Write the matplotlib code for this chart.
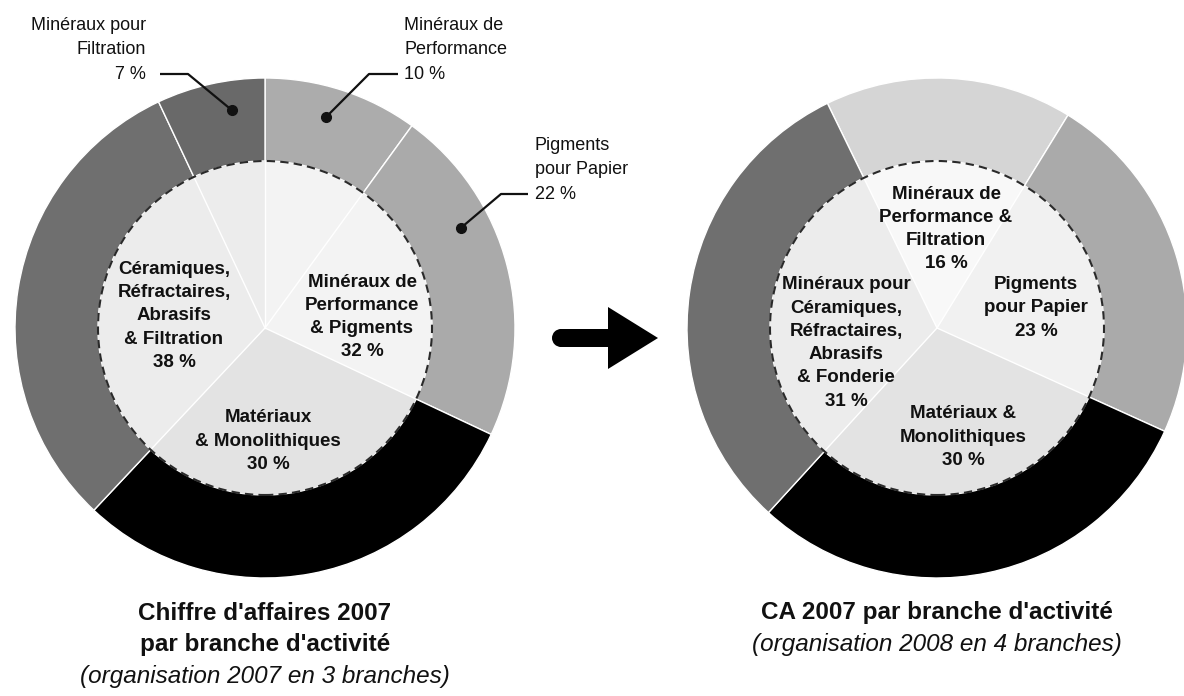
import numpy as np
import matplotlib.pyplot as plt
from matplotlib.patches import Circle, FancyArrow

plt.rcParams['font.family'] = ['Liberation Sans', 'DejaVu Sans']

# ---- data: organisation 2007 (left) ----
left_outer_names = ["Minéraux de\nPerformance", "Pigments\npour Papier", "Matériaux",
                    "Céramiques", "Minéraux pour\nFiltration"]
left_outer_values = [10, 22, 30, 31, 7]
left_outer_colors = ["#acacac", "#aaaaaa", "#000000", "#6f6f6f", "#696969"]
left_inner_names = ["Minéraux de\nPerformance\n& Pigments", "Matériaux\n& Monolithiques",
                    "Céramiques,\nRéfractaires,\nAbrasifs\n& Filtration"]
left_inner_values = [32, 30, 38]
left_inner_colors = ["#f3f3f3", "#e3e3e3", "#ececec"]

# ---- data: organisation 2008 (right) ----
right_names = ["Minéraux de\nPerformance &\nFiltration", "Pigments\npour Papier",
               "Matériaux &\nMonolithiques",
               "Minéraux pour\nCéramiques,\nRéfractaires,\nAbrasifs\n& Fonderie"]
right_values = [16, 23, 30, 31]
right_outer_colors = ["#d5d5d5", "#aaaaaa", "#000000", "#6f6f6f"]
right_inner_colors = ["#f8f8f8", "#f1f1f1", "#e3e3e3", "#ececec"]

titles = [["Chiffre d'affaires 2007", "par branche d'activité", "(organisation 2007 en 3 branches)"],
          ["CA 2007 par branche d'activité", "(organisation 2008 en 4 branches)"]]

W, H = 1184, 696
R_OUT, R_IN = 250, 167
centers = [(265, H - 328), (937, H - 328)]
starts = [90, 116]


def Y(y):
    return H - y


def polar(c, r, ang):
    a = np.deg2rad(ang)
    return c[0] + r * np.cos(a), c[1] + r * np.sin(a)


def boundaries(values, start):
    cum = np.concatenate([[0], np.cumsum(values)]) / np.sum(values) * 360.0
    return start - cum


def donut(ax, c, start, outer_vals, outer_cols, inner_vals, inner_cols):
    ax.pie(outer_vals, radius=R_OUT, center=c, startangle=start, counterclock=False,
           colors=outer_cols, wedgeprops=dict(width=R_OUT - R_IN, edgecolor="white", linewidth=1))
    ax.pie(inner_vals, radius=R_IN, center=c, startangle=start, counterclock=False,
           colors=inner_cols, wedgeprops=dict(edgecolor="none", linewidth=0))
    # thin white dividers inside the inner disc
    for ang in boundaries(outer_vals, start)[:-1]:
        x1, y1 = polar(c, R_IN, ang)
        ax.plot([c[0], x1], [c[1], y1], color="white", lw=1.0, zorder=3)
    ax.add_patch(Circle(c, R_IN, fill=False, ec="#2a2a2a", lw=1.5,
                        ls=(0, (4, 2.5)), zorder=4))


fig = plt.figure(figsize=(W / 100, H / 100), dpi=100)
ax = fig.add_axes([0, 0, 1, 1])

donut(ax, centers[0], starts[0], left_outer_values, left_outer_colors,
      left_inner_values, left_inner_colors)
donut(ax, centers[1], starts[1], right_values, right_outer_colors,
      right_values, right_inner_colors)

# ---- inner bold labels ----
bold = dict(fontsize=13.5, fontweight="bold", ha="center", va="center",
            linespacing=1.48, zorder=5, color="#111111")
left_inner_pos = [(362, 317), (268, 441), (174, 316)]
for name, v, (x, y) in zip(left_inner_names, left_inner_values, left_inner_pos):
    ax.text(x, Y(y), f"{name}\n{v} %", **bold)

right_inner_pos = [(946, 229), (1036, 308), (963, 437), (846, 343)]
for name, v, (x, y) in zip(right_names, right_values, right_inner_pos):
    ax.text(x, Y(y), f"{name}\n{v} %", **bold)

# ---- outer callouts (left chart) ----
b = boundaries(left_outer_values, starts[0])
callouts = [
    # index, text pos, ha, fraction along wedge, elbow start, elbow end
    (4, (146, 50), "right", 0.66, (160, 74), (188, 74)),
    (0, (404, 50), "left", 0.45, (398, 74), (369, 74)),
    (1, (535, 170), "left", 0.34, (528, 194), (501, 194)),
]
r_dot = 220
for i, (tx, ty), ha, frac, p0, p1 in callouts:
    ang = b[i] + (b[i + 1] - b[i]) * frac
    dx, dy = polar(centers[0], r_dot, ang)
    ax.text(tx, Y(ty), f"{left_outer_names[i]}\n{left_outer_values[i]} %", fontsize=13,
            ha=ha, va="center", linespacing=1.56, color="#111111")
    ax.plot([p0[0], p1[0], dx], [Y(p0[1]), Y(p1[1]), dy], color="#111111", lw=1.6,
            solid_capstyle="butt", zorder=6)
    ax.plot(dx, dy, "o", color="#111111", ms=7, zorder=7)

# ---- arrow between the two charts ----
ay = Y(338)
ax.add_patch(FancyArrow(560, ay, 98, 0, width=18, head_width=62, head_length=50,
                        length_includes_head=True, color="black", lw=0))
ax.add_patch(Circle((561, ay), 9, color="black", lw=0))

# ---- titles ----
for c, lines in zip(centers, titles):
    for k, line in enumerate(lines):
        italic = line.startswith("(")
        ax.text(c[0], Y(613 + 31.5 * k), line, fontsize=17.5,
                fontweight="normal" if italic else "bold",
                style="italic" if italic else "normal",
                ha="center", va="center", color="#111111")

ax.set_xlim(0, W)
ax.set_ylim(0, H)
ax.set_aspect("equal")
ax.axis("off")
fig.savefig("out.png", dpi=100)
